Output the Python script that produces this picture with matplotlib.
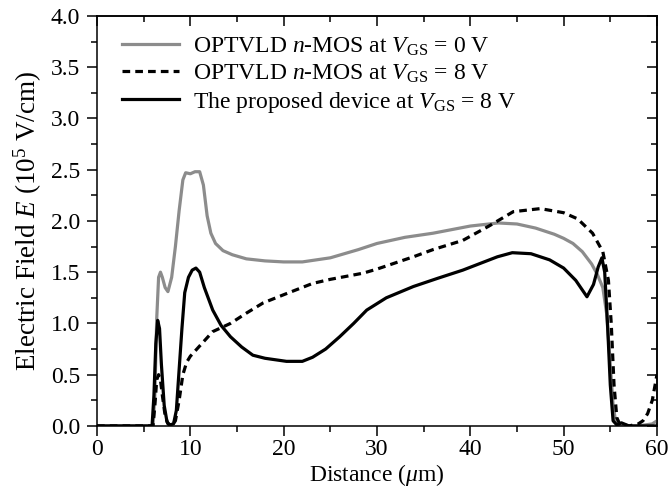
import matplotlib
matplotlib.use("Agg")
import matplotlib.pyplot as plt
from matplotlib.ticker import MultipleLocator

plt.rcParams['font.family'] = ['Liberation Serif', 'DejaVu Serif']
plt.rcParams['mathtext.fontset'] = 'custom'
plt.rcParams['mathtext.rm'] = 'Liberation Serif'
plt.rcParams['mathtext.it'] = 'Liberation Serif:italic'
plt.rcParams['mathtext.bf'] = 'Liberation Serif:bold'

# OPTVLD n-MOS at VGS = 0 V
x_v0 = [0, 6.0, 6.2, 6.4, 6.6, 6.8, 7.0, 7.3, 7.6, 8.0, 8.4, 8.8, 9.2, 9.5, 10.0,
        10.5, 11.0, 11.4, 11.8, 12.2, 12.7, 13.5, 14.5, 16, 18, 20, 22, 25, 28, 30,
        33, 36, 40, 43, 45, 47, 49, 50, 51, 52, 53, 53.6, 54.2, 54.6, 55.0, 55.3,
        55.6, 56, 58, 59.5, 60]
e_v0 = [0, 0, 0.3, 1.05, 1.45, 1.50, 1.45, 1.35, 1.31, 1.45, 1.75, 2.1, 2.40, 2.47, 2.46,
        2.48, 2.48, 2.35, 2.05, 1.88, 1.78, 1.71, 1.67, 1.63, 1.61, 1.60, 1.60, 1.64, 1.72, 1.78,
        1.84, 1.88, 1.95, 1.98, 1.97, 1.93, 1.87, 1.83, 1.78, 1.70, 1.58, 1.48, 1.35, 1.1, 0.6, 0.2,
        0.03, 0, 0, 0.02, 0.05]

# OPTVLD n-MOS at VGS = 8 V
x_v8 = [0, 6.0, 6.2, 6.4, 6.6, 6.8, 7.0, 7.3, 7.6, 8.0, 8.4, 8.8, 9.2, 9.6, 10, 11,
        12.4, 14.3, 16, 17.8, 20, 23.1, 25, 28.5, 30, 33.9, 36, 39.2, 42, 44.6, 47.5,
        50, 51.5, 53.1, 54.2, 54.8, 55.1, 55.4, 55.7, 56, 57, 58, 58.5, 59, 59.5, 60]
e_v8 = [0, 0, 0.2, 0.45, 0.5, 0.45, 0.3, 0.1, 0.02, 0.0, 0.05, 0.25, 0.5, 0.62, 0.68, 0.78,
        0.92, 1.0, 1.1, 1.2, 1.28, 1.39, 1.43, 1.49, 1.53, 1.65, 1.72, 1.81, 1.95, 2.09, 2.12,
        2.08, 2.02, 1.88, 1.70, 1.42, 1.0, 0.4, 0.08, 0.02, 0.0, 0.02, 0.05, 0.12, 0.25, 0.5]

# The proposed device at VGS = 8 V
x_pr = [0, 5.9, 6.1, 6.3, 6.5, 6.7, 6.9, 7.2, 7.5, 7.8, 8.2, 8.5, 8.8, 9.1, 9.4, 9.8,
        10.2, 10.6, 11.0, 11.5, 12.4, 13.3, 14.3, 15.5, 16.7, 18, 20.3, 22, 23.1, 24.5,
        26, 27.5, 28.9, 31, 33.9, 36.5, 39.2, 42.9, 44.5, 46.5, 48.5, 50, 51.3, 52.5,
        53.2, 53.7, 54.1, 54.4, 54.7, 55.0, 55.3, 55.7, 56.2, 57, 60]
e_pr = [0, 0, 0.3, 0.8, 1.03, 0.95, 0.6, 0.2, 0.04, 0.01, 0.02, 0.15, 0.55, 0.95, 1.3, 1.45,
        1.52, 1.54, 1.50, 1.35, 1.13, 0.98, 0.87, 0.77, 0.69, 0.66, 0.63, 0.63, 0.67, 0.75,
        0.87, 1.0, 1.13, 1.25, 1.36, 1.44, 1.52, 1.65, 1.69, 1.68, 1.62, 1.54, 1.42, 1.26,
        1.38, 1.55, 1.64, 1.5, 1.0, 0.4, 0.05, 0.01, 0.03, 0.0, 0.0]

labels = [r'OPTVLD $n$-MOS at $V_{\rm GS}$ = 0 V',
          r'OPTVLD $n$-MOS at $V_{\rm GS}$ = 8 V',
          r'The proposed device at $V_{\rm GS}$ = 8 V']

fs = 17

fig = plt.figure(figsize=(6.69, 4.97), dpi=100)
ax = fig.add_axes([0.145, 0.143, 0.837, 0.825])

ax.plot(x_v0, e_v0, color='#8c8c8c', lw=2.3, label=labels[0])
ax.plot(x_v8, e_v8, color='black', lw=2.3, dashes=(2.4, 1.6), label=labels[1])
ax.plot(x_pr, e_pr, color='black', lw=2.3, label=labels[2])

ax.set_xlim(0, 60)
ax.set_ylim(0, 4.0)
ax.xaxis.set_major_locator(MultipleLocator(10))
ax.xaxis.set_minor_locator(MultipleLocator(5))
ax.yaxis.set_major_locator(MultipleLocator(0.5))
ax.yaxis.set_minor_locator(MultipleLocator(0.25))
ax.yaxis.set_major_formatter(matplotlib.ticker.FormatStrFormatter('%.1f'))

for s in ax.spines.values():
    s.set_linewidth(1.1)
ax.tick_params(which='both', labelsize=fs, width=1.1, direction='out')
ax.tick_params(which='major', length=7.5)
ax.tick_params(which='minor', length=4.5)
ax.tick_params(axis='y', which='major', pad=4.5)
ax.tick_params(axis='x', which='major', pad=2)
# top/right ticks point inward
sec_x = ax.secondary_xaxis('top')
sec_x.xaxis.set_major_locator(MultipleLocator(10))
sec_x.xaxis.set_minor_locator(MultipleLocator(5))
sec_x.tick_params(which='both', direction='in', labeltop=False, width=1.1)
sec_x.tick_params(which='major', length=7)
sec_x.tick_params(which='minor', length=4)
sec_y = ax.secondary_yaxis('right')
sec_y.yaxis.set_major_locator(MultipleLocator(0.5))
sec_y.yaxis.set_minor_locator(MultipleLocator(0.25))
sec_y.tick_params(which='both', direction='in', labelright=False, width=1.1)
sec_y.tick_params(which='major', length=7)
sec_y.tick_params(which='minor', length=4)
for sec in (sec_x, sec_y):
    for s in sec.spines.values():
        s.set_linewidth(1.1)

ax.set_xlabel(r'Distance ($\mu$m)', fontsize=fs, labelpad=1)
ax.set_ylabel(r'Electric Field $E$ (10$^5$ V/cm)', fontsize=19.5, labelpad=5)

ax.legend(loc='upper left', bbox_to_anchor=(0.028, 0.975), frameon=False, fontsize=fs,
          handlelength=2.4, handletextpad=0.6, labelspacing=0.2, borderaxespad=0)

fig.savefig('out.png', dpi=100)
